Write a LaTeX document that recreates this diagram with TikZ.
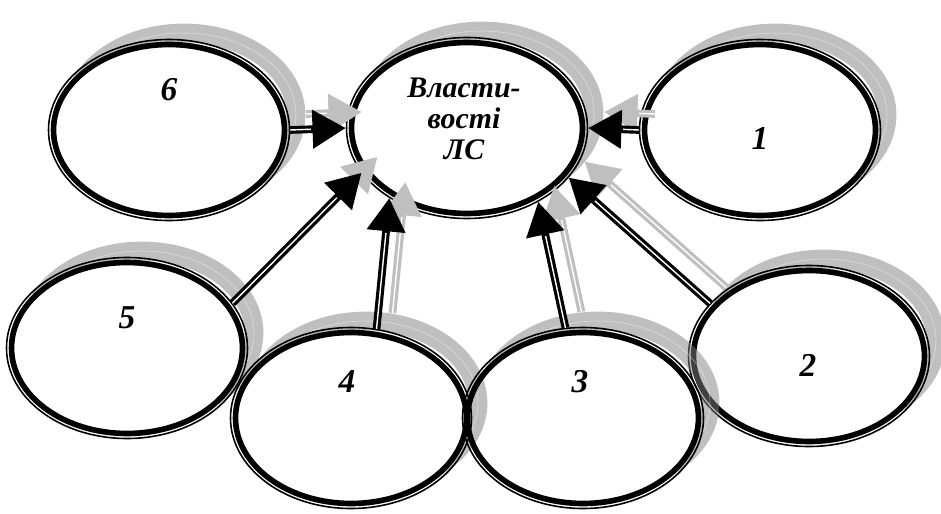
\documentclass[tikz,border=0pt]{standalone}
\usepackage{fontspec}
\setmainfont{Liberation Serif}
\usetikzlibrary{arrows.meta, shapes.geometric}
\tikzset{
  bubble/.style={ellipse, draw, line width=3.2pt, minimum width=4.62cm, minimum height=3.42cm, inner sep=0pt, outer sep=3.2pt},
  rim/.style={draw, line width=0.9pt},
  halo/.style={draw=black!50, line width=5.2pt, double=white, double distance=0.3pt, opacity=0.5},
  wire/.style={draw=black, line width=4.4pt, -{Triangle[length=19pt, width=21pt]}},
  gap/.style={draw=white, line width=0.8pt, shorten >=20pt},
  wireshade/.style={wire, draw=black!25, transform canvas={shift={(16,-16)}}},
  gapshade/.style={gap, transform canvas={shift={(16,-16)}}},
  numtext/.style={font=\fontsize{17}{17.5}\selectfont\bfseries\itshape, inner sep=0pt},
  digit/.style={numtext, font=\fontsize{19}{20}\selectfont\bfseries\itshape}
}

\begin{document}
\begin{tikzpicture}[x=0.02cm, y=-0.02cm]
  \useasboundingbox (0,0) rectangle (941,514);

  % ellipses with their shadows
  \foreach \nm/\x/\y in {n6/169/130, nC/467/128, n1/760/130, n5/127/348, n4/351/418, n2/809/356, n3/583/418} {
    \begin{scope}
      \clip (-50,-50) -- (1000,-50) -- (1000,600) -- (-50,600) -- cycle
            (\x+115,\y) arc [start angle=0, end angle=-360, x radius=115, y radius=85];
      \draw[halo, transform canvas={shift={(15,-15)}}] (\x,\y) ellipse [x radius=112, y radius=82];
    \end{scope}
    \node[bubble] (\nm) at (\x,\y) {};
    \draw[rim] (\nm.center) ellipse [x radius=120.5, y radius=90.5];
  }

  % texts
  \node[numtext, align=center] (tC) at (464,119) {Власти-\\вості\\ЛС};
  \node[digit] (t6) at (169,90) {6};
  \node[digit] (t1) at (760,138) {1};
  \node[digit] (t5) at (127,318) {5};
  \node[digit] (t4) at (347,382) {4};
  \node[digit] (t3) at (580,382) {3};
  \node[digit] (t2) at (808,365) {2};

  % arrows
  \foreach \src/\dst in {n6.east/nC.west, n1.west/nC.east, n5.23/nC.203, n4.74/nC.222, n3.101/nC.314, n2.152/nC.334} {
    \draw[wireshade] (\src) -- (\dst);
    \draw[gapshade] (\src) -- (\dst);
  }
  \foreach \src/\dst in {n6.east/nC.west, n1.west/nC.east, n5.23/nC.203, n4.74/nC.222, n3.101/nC.314, n2.152/nC.334} {
    \draw[wire] (\src) -- (\dst);
    \draw[gap] (\src) -- (\dst);
  }
\end{tikzpicture}
\end{document}
